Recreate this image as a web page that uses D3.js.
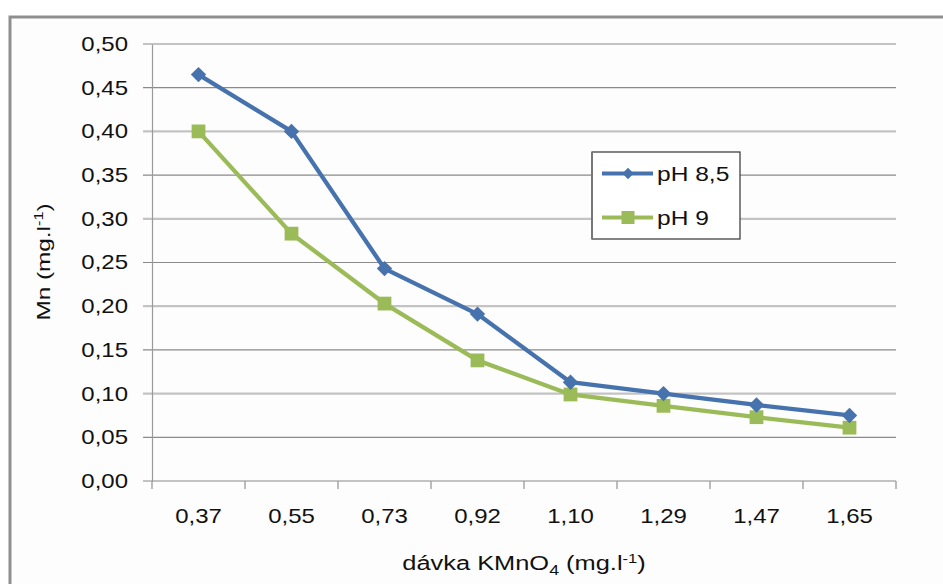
<!DOCTYPE html>
<html>
<head>
<meta charset="utf-8">
<script src="https://cdn.jsdelivr.net/npm/d3@7"></script>
<style>
  html, body { margin: 0; padding: 0; background: #ffffff; }
  svg { display: block; font-family: "Liberation Sans", Arial, sans-serif; }
</style>
</head>
<body>
<svg id="chart" width="943" height="584"></svg>
<script>
// KMnO4 dose (mg/l) on the category axis
const doses = ["0,37", "0,55", "0,73", "0,92", "1,10", "1,29", "1,47", "1,65"];
// residual Mn (mg/l) for each pH
const mnPh85 = [0.465, 0.400, 0.243, 0.191, 0.113, 0.100, 0.087, 0.075];
const mnPh9  = [0.400, 0.283, 0.203, 0.138, 0.099, 0.086, 0.073, 0.061];
const seriesNames = ["pH 8,5", "pH 9"];
const yTicks = [0, 0.05, 0.10, 0.15, 0.20, 0.25, 0.30, 0.35, 0.40, 0.45, 0.50];

const svg = d3.select("#chart");
const W = 943, H = 584;
const plot = { left: 152, right: 896, top: 44, bottom: 481 };

const BLUE = "#4672ad", GREEN = "#9bbb59";
const comma = v => d3.format(".2f")(v).replace(".", ",");

// stretch a text element horizontally (along its reading direction) about its anchor point
function widen(sel, k) {
  sel.each(function () {
    const t = d3.select(this);
    const ax = +t.attr("x") || 0, ay = +t.attr("y") || 0;
    const base = t.attr("transform") || "";
    t.attr("transform", `${base} translate(${ax},${ay}) scale(${k},1) translate(${-ax},${-ay})`);
  });
}

// page background and outer chart frame
svg.append("rect").attr("width", W).attr("height", H).attr("fill", "#ffffff");
svg.append("rect")
  .attr("x", 10).attr("y", 17).attr("width", 1000).attr("height", 1000)
  .attr("fill", "#fdfdfd").attr("stroke", "#8f8f8f").attr("stroke-width", 3);

const x = d3.scaleBand().domain(doses).range([plot.left, plot.right]);
const y = d3.scaleLinear().domain([0, 0.5]).range([plot.bottom, plot.top]);

// horizontal gridlines (extend left to act as tick marks)
svg.append("g").selectAll("line").data(yTicks).join("line")
  .attr("x1", plot.left - 9).attr("x2", plot.right)
  .attr("y1", d => y(d)).attr("y2", d => y(d))
  .attr("stroke", (d, i) => i % 2 === 0 ? "#c3c3c3" : "#8a8a8a")
  .attr("stroke-width", (d, i) => i % 2 === 0 ? 2.2 : 1.2);

// y axis
const yAxis = svg.append("g")
  .attr("transform", `translate(${plot.left},0)`)
  .call(d3.axisLeft(y).tickValues(yTicks).tickFormat(comma).tickSize(0).tickPadding(24));
yAxis.select(".domain").attr("stroke", "#9a9a9a").attr("stroke-width", 1.2);
yAxis.selectAll("text").attr("font-size", 20).attr("fill", "#111").call(widen, 1.2);

// x axis with ticks on the category boundaries
const xAxis = svg.append("g")
  .attr("transform", `translate(0,${plot.bottom})`)
  .call(d3.axisBottom(x).tickSize(0).tickPadding(28));
xAxis.select(".domain").remove();
xAxis.selectAll("text").attr("font-size", 20).attr("fill", "#111").call(widen, 1.2);
const bounds = doses.map(d => x(d)).concat([x.range()[1]]);
svg.append("g").selectAll("line").data(bounds).join("line")
  .attr("x1", d => d).attr("x2", d => d)
  .attr("y1", plot.bottom).attr("y2", plot.bottom + 8)
  .attr("stroke", "#9a9a9a").attr("stroke-width", 1.3);

// series
const cx = d => x(d) + x.bandwidth() / 2;
const diamond = d3.symbol().type(d3.symbolSquare).size(118);
const square = d3.symbol().type(d3.symbolSquare).size(190);
const series = [
  { name: seriesNames[0], values: mnPh85, color: BLUE, marker: diamond, rot: 45 },
  { name: seriesNames[1], values: mnPh9, color: GREEN, marker: square, rot: 0 }
];
const line = d3.line().x((v, i) => cx(doses[i])).y(v => y(v));

// draw pH 9 first so pH 8,5 sits on top
[series[1], series[0]].forEach(s => {
  svg.append("path").datum(s.values)
    .attr("d", line).attr("fill", "none")
    .attr("stroke", s.color).attr("stroke-width", 4.3).attr("stroke-linejoin", "round");
  svg.append("g").selectAll("path").data(s.values).join("path")
    .attr("d", s.marker)
    .attr("transform", (v, i) => `translate(${cx(doses[i])},${y(v)}) rotate(${s.rot})`)
    .attr("fill", s.color);
});

// legend
const lg = svg.append("g");
lg.append("rect").attr("x", 592).attr("y", 152).attr("width", 148).attr("height", 87)
  .attr("fill", "#ffffff").attr("stroke", "#333").attr("stroke-width", 1.2);
lg.append("line").attr("x1", 592).attr("x2", 592).attr("y1", 152).attr("y2", 239)
  .attr("stroke", "#777").attr("stroke-width", 2);
series.forEach((s, i) => {
  const ly = 173.5 + i * 44;
  lg.append("line").attr("x1", 602).attr("x2", 653).attr("y1", ly).attr("y2", ly)
    .attr("stroke", s.color).attr("stroke-width", 4);
  lg.append("path").attr("d", d3.symbol().type(d3.symbolSquare).size(i === 0 ? 64 : 170)())
    .attr("transform", `translate(628,${ly}) rotate(${s.rot})`).attr("fill", s.color);
  lg.append("text").attr("x", 657).attr("y", ly).attr("dy", "0.36em")
    .attr("font-size", 21).attr("fill", "#111").text(s.name).call(widen, 1.17);
});

// axis titles
const xt = svg.append("text")
  .attr("x", 524).attr("y", 570).attr("text-anchor", "middle")
  .attr("font-size", 20).attr("fill", "#111");
xt.append("tspan").text("dávka KMnO");
xt.append("tspan").attr("dy", 5).attr("font-size", 14).text("4");
xt.append("tspan").attr("dy", -5).text(" (mg.l");
xt.append("tspan").attr("dy", -7).attr("font-size", 13).text("-1");
xt.append("tspan").attr("dy", 7).text(")");
xt.call(widen, 1.27);

const yt = svg.append("text")
  .attr("transform", "translate(50,262) rotate(-90)")
  .attr("text-anchor", "middle").attr("font-size", 18).attr("fill", "#111");
yt.append("tspan").text("Mn (mg.l");
yt.append("tspan").attr("dy", -7).attr("font-size", 12).text("-1");
yt.append("tspan").attr("dy", 7).text(")");
yt.call(widen, 1.35);
</script>
</body>
</html>
